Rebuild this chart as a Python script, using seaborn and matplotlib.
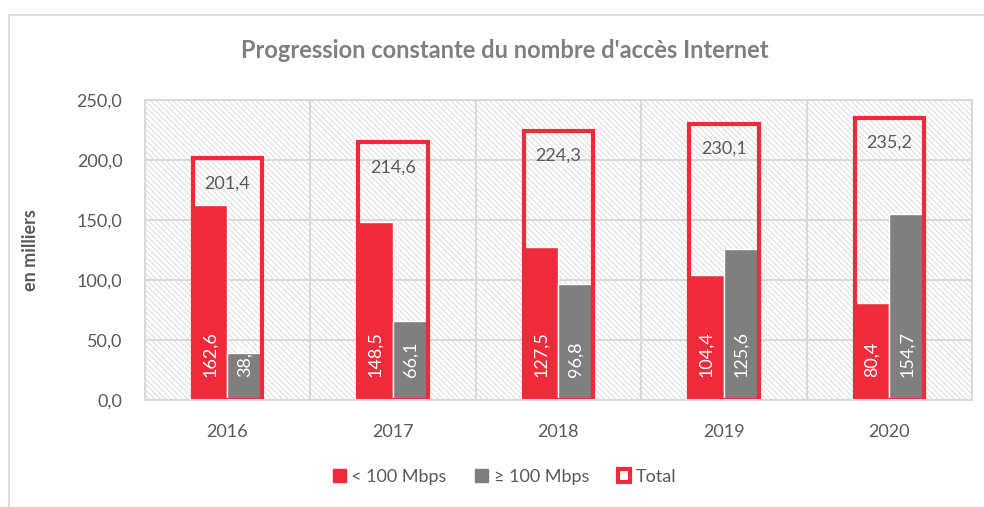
import numpy as np
import pandas as pd
import matplotlib
matplotlib.use('Agg')
import matplotlib.pyplot as plt
import seaborn as sns
from matplotlib.patches import Rectangle, Patch
from matplotlib.ticker import FuncFormatter

# Données (en milliers d'accès)
annees      = ['2016', '2017', '2018', '2019', '2020']
moins_100   = [162.6, 148.5, 127.5, 104.4, 80.4]
plus_100    = [38.9, 66.1, 96.8, 125.6, 154.7]
totaux      = [201.4, 214.6, 224.3, 230.1, 235.2]
series      = ['< 100 Mbps', '≥ 100 Mbps']

ROUGE = '#EE2A3B'
GRIS = '#7F7F7F'
TEXTE = '#595959'
GRILLE = '#D9D9D9'

sns.set_style('white')
plt.rcParams['font.family'] = ['Lato', 'DejaVu Sans']
plt.rcParams['hatch.linewidth'] = 0.7

df = pd.DataFrame({
    'annee': annees * 2,
    'valeur': moins_100 + plus_100,
    'debit': [series[0]] * len(annees) + [series[1]] * len(annees),
})

fig = plt.figure(figsize=(9.84, 5.07), dpi=100)
ax = fig.add_axes([0.147, 0.211, 0.841, 0.592])

# fond hachuré de la zone de tracé
ax.add_patch(Rectangle((0, 0), 1, 1, transform=ax.transAxes, facecolor='white',
                       edgecolor='#DCDCDC', hatch='\\' * 6, lw=0, zorder=0))

sns.barplot(data=df, x='annee', y='valeur', hue='debit', order=annees,
            hue_order=series, palette={series[0]: ROUGE, series[1]: GRIS},
            width=0.42, saturation=1, legend=False, ax=ax)
sns.barplot(x=annees, y=totaux, order=annees, width=0.42, fill=False,
            color=ROUGE, saturation=1, linewidth=3, ax=ax)

# étiquettes des séries (verticales, en blanc, à la base)
for cont, vals in zip(ax.containers[:2], [moins_100, plus_100]):
    for bar, v in zip(cont, vals):
        ax.text(bar.get_x() + bar.get_width() / 2, 19, f'{v:.1f}'.replace('.', ','),
                rotation=90, ha='center', va='bottom', color='white', fontsize=13)
for bar, v in zip(ax.containers[2], totaux):
    ax.text(bar.get_x() + bar.get_width() / 2, v - 21, f'{v:.1f}'.replace('.', ','),
            ha='center', va='center', color=TEXTE, fontsize=13)

ax.set_ylim(0, 250)
ax.set_xlim(-0.5, len(annees) - 0.5)
ax.set_yticks(np.arange(0, 251, 50))
ax.yaxis.set_major_formatter(FuncFormatter(lambda v, p: f'{v:.1f}'.replace('.', ',')))
ax.set_xticks(np.arange(-0.5, len(annees), 1), minor=True)
ax.set_axisbelow(True)
ax.grid(axis='y', which='major', color=GRILLE, lw=1.5)
ax.grid(axis='x', which='minor', color=GRILLE, lw=1.5)
ax.grid(axis='x', which='major', visible=False)
ax.tick_params(axis='both', which='both', length=0, labelsize=13, labelcolor=TEXTE)
ax.tick_params(axis='y', pad=16)
ax.tick_params(axis='x', pad=17)
for s in ax.spines.values():
    s.set_color(GRILLE)
    s.set_linewidth(1.5)
ax.set_xlabel('')
ax.set_ylabel('')

fig.text(0.513, 0.901, "Progression constante du nombre d'accès Internet",
         ha='center', va='center', fontsize=17, fontweight='bold', color='#7F7F7F')
fig.text(0.031, 0.507, 'en milliers', rotation=90, ha='center', va='center',
         fontsize=13, fontweight='bold', color=TEXTE)

handles = [Patch(facecolor=ROUGE, edgecolor=ROUGE),
           Patch(facecolor=GRIS, edgecolor=GRIS),
           Patch(facecolor='white', edgecolor=ROUGE, linewidth=3)]
fig.legend(handles, series + ['Total'], loc='center', bbox_to_anchor=(0.513, 0.059),
           ncol=3, frameon=False, fontsize=13, handlelength=0.7, handleheight=0.7,
           handletextpad=0.3, columnspacing=1.6, labelcolor=TEXTE)

# cadre extérieur du graphique
fig.add_artist(Rectangle((0.009, -0.02), 1.0, 0.99, transform=fig.transFigure,
                         fill=False, edgecolor=GRILLE, lw=1.2))

fig.savefig('out.png', dpi=100)
